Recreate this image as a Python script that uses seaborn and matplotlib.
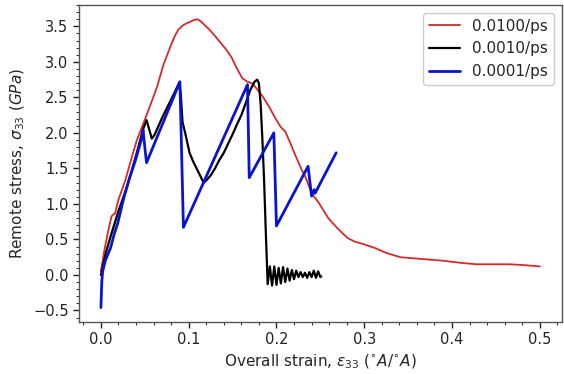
import numpy as np
import pandas as pd
import matplotlib
matplotlib.use("Agg")
import matplotlib.pyplot as plt
from matplotlib.ticker import AutoMinorLocator
import seaborn as sns

# strain rate 0.0100/ps
red_strain = [0.000, 0.004, 0.008, 0.012, 0.014, 0.016, 0.020, 0.028, 0.035, 0.041,
              0.048, 0.056, 0.064, 0.071, 0.079, 0.084, 0.088, 0.093, 0.097, 0.101,
              0.106, 0.110, 0.114, 0.118, 0.124, 0.131, 0.137, 0.143, 0.149, 0.154,
              0.161, 0.167, 0.172, 0.177, 0.184, 0.192, 0.199, 0.205, 0.210, 0.216,
              0.221, 0.228, 0.233, 0.240, 0.248, 0.259, 0.270, 0.281, 0.289, 0.300,
              0.312, 0.325, 0.341, 0.360, 0.390, 0.410, 0.428, 0.450, 0.465, 0.480,
              0.500]
red_stress = [0.05, 0.35, 0.60, 0.82, 0.85, 0.86, 1.06, 1.34, 1.65, 1.90,
              2.12, 2.38, 2.65, 2.95, 3.21, 3.36, 3.45, 3.51, 3.54, 3.56,
              3.59, 3.60, 3.57, 3.52, 3.45, 3.35, 3.26, 3.17, 3.06, 2.93,
              2.77, 2.72, 2.70, 2.63, 2.52, 2.36, 2.20, 2.08, 2.02, 1.85,
              1.70, 1.50, 1.38, 1.15, 1.02, 0.80, 0.65, 0.52, 0.47, 0.43,
              0.38, 0.31, 0.25, 0.23, 0.20, 0.17, 0.15, 0.15, 0.15, 0.14,
              0.12]

# strain rate 0.0010/ps
black_strain = [0.000, 0.005, 0.010, 0.020, 0.030, 0.040, 0.048, 0.052, 0.055, 0.058,
                0.061, 0.070, 0.080, 0.089, 0.091, 0.093, 0.096, 0.101, 0.105, 0.109,
                0.113, 0.117, 0.120, 0.125, 0.130, 0.135, 0.140, 0.145, 0.150, 0.155,
                0.160, 0.165, 0.170, 0.175, 0.178, 0.180, 0.182, 0.184, 0.186, 0.188,
                0.190, 0.1925, 0.195, 0.1975, 0.200, 0.2025, 0.205, 0.2075, 0.210, 0.2125,
                0.215, 0.2175, 0.220, 0.2225, 0.225, 0.2275, 0.230, 0.2325, 0.235, 0.2375,
                0.240, 0.2425, 0.245, 0.2475, 0.250, 0.251]
black_stress = [0.00, 0.28, 0.50, 0.90, 1.25, 1.68, 2.05, 2.18, 2.05, 1.92,
                1.97, 2.22, 2.47, 2.70, 2.55, 2.15, 2.00, 1.72, 1.60, 1.50,
                1.40, 1.30, 1.33, 1.40, 1.50, 1.62, 1.72, 1.85, 1.98, 2.12,
                2.25, 2.42, 2.60, 2.72, 2.75, 2.70, 2.40, 1.90, 1.30, 0.55,
                -0.13, 0.12, -0.15, 0.12, -0.14, 0.10, -0.12, 0.11, -0.10, 0.09,
                -0.08, 0.07, -0.06, 0.06, -0.03, 0.04, -0.03, 0.03, -0.04, 0.04,
                -0.03, 0.06, -0.04, 0.05, -0.03, -0.02]

# strain rate 0.0001/ps
blue_strain = [0.000, 0.001, 0.002, 0.005, 0.011, 0.015, 0.019, 0.026, 0.032, 0.040,
               0.047, 0.048, 0.050, 0.052, 0.090, 0.094, 0.167, 0.169, 0.197, 0.200,
               0.236, 0.240, 0.243, 0.244, 0.268]
blue_stress = [-0.46, -0.10, 0.05, 0.20, 0.38, 0.57, 0.72, 1.08, 1.34, 1.64,
               1.95, 2.04, 1.80, 1.58, 2.72, 0.67, 2.68, 1.37, 2.00, 0.69,
               1.53, 1.11, 1.20, 1.15, 1.72]

sns.set_style("ticks")
plt.rcParams['font.family'] = ['DejaVu Sans']

fig, ax = plt.subplots(figsize=(5.64, 3.74), dpi=100)
fig.subplots_adjust(left=0.140, right=0.996, top=0.987, bottom=0.139)

series = [
    ("0.0100/ps", red_strain, red_stress, "#d42a2a", 1.3),
    ("0.0010/ps", black_strain, black_stress, "black", 1.6),
    ("0.0001/ps", blue_strain, blue_stress, "#0a14d0", 2.0),
]
for label, x, y, color, lw in series:
    df = pd.DataFrame({"strain": x, "stress": y})
    sns.lineplot(data=df, x="strain", y="stress", ax=ax, sort=False,
                 estimator=None, color=color, linewidth=lw, label=label)

ax.set_xlabel(r"Overall strain, $\varepsilon_{33}$ $(^{\circ}A/^{\circ}A)$", fontsize=11)
ax.set_ylabel(r"Remote stress, $\sigma_{33}$ $(GPa)$", fontsize=11)
ax.set_xticks([0.0, 0.1, 0.2, 0.3, 0.4, 0.5])
ax.set_yticks([-0.5, 0.0, 0.5, 1.0, 1.5, 2.0, 2.5, 3.0, 3.5])
ax.xaxis.set_minor_locator(AutoMinorLocator(5))
ax.yaxis.set_minor_locator(AutoMinorLocator(5))
ax.tick_params(which="major", length=4, width=1, colors="#222222", labelsize=10.5)
ax.tick_params(which="minor", length=2, width=0.8, colors="#333333")
for s in ax.spines.values():
    s.set_color("#555555")
    s.set_linewidth(1.0)

ax.legend(loc="upper right", fontsize=11, frameon=True, framealpha=1,
          edgecolor="#cccccc", handlelength=2.0)

fig.savefig("out.png", dpi=100)
